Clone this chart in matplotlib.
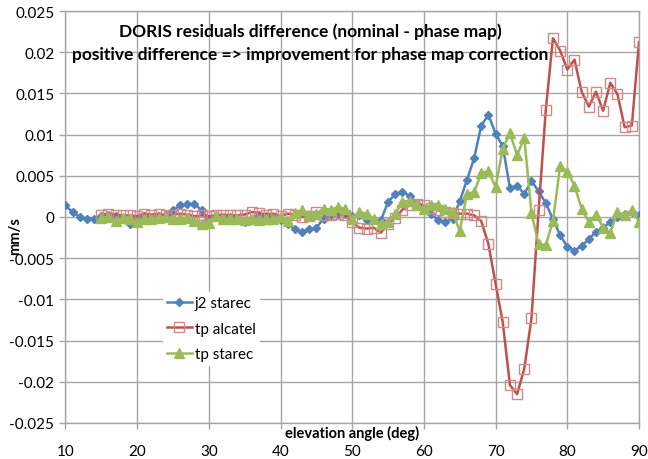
import matplotlib
matplotlib.use("Agg")
import matplotlib.pyplot as plt
import numpy as np

# elevation angles (deg)
elev_j2 = list(range(10, 91))
elev_tp = list(range(15, 91))

j2_starec = [
    0.0014, 0.0006, 0.0000, -0.0002, -0.0002,                      # 10-14
    0.0001, 0.0002, 0.0001, -0.0003, -0.0008,                      # 15-19
    -0.0003, 0.0001, -0.0001, 0.0001, 0.0003,                      # 20-24
    0.0008, 0.0014, 0.0016, 0.0016, 0.0008,                        # 25-29
    -0.0002, 0.0000, -0.0001, 0.0000, -0.0004,                     # 30-34
    -0.0006, -0.0002, 0.0002, 0.0001, -0.0001,                     # 35-39
    -0.0004, -0.0008, -0.0015, -0.0018, -0.0015,                   # 40-44
    -0.0013, -0.0002, 0.0002, 0.0004, 0.0004,                      # 45-49
    0.0001, 0.0002, -0.0004, -0.0004, -0.0004,                     # 50-54
    0.0018, 0.0028, 0.0030, 0.0026, 0.0016,                        # 55-59
    0.0008, 0.0004, -0.0004, -0.0006, -0.0002,                     # 60-64
    0.0019, 0.0045, 0.0071, 0.0111, 0.0124,                        # 65-69
    0.0101, 0.0086, 0.0035, 0.0038, 0.0028,                        # 70-74
    0.0044, 0.0031, 0.0017, -0.0003, -0.0022,                      # 75-79
    -0.0036, -0.0041, -0.0035, -0.0027, -0.0018,                   # 80-84
    -0.0013, -0.0006, 0.0000, 0.0004, 0.0006,                      # 85-89
    0.0002,                                                        # 90
]

tp_alcatel = [
    0.0003, 0.0004, 0.0003, 0.0002, 0.0002,                        # 15-19
    0.0001, 0.0004, 0.0003, 0.0004, 0.0002,                        # 20-24
    0.0003, 0.0004, 0.0003, 0.0001, 0.0002,                        # 25-29
    0.0001, 0.0002, 0.0003, 0.0002, 0.0002,                        # 30-34
    0.0003, 0.0006, 0.0005, 0.0003, 0.0004,                        # 35-39
    0.0001, 0.0004, 0.0003, 0.0000, 0.0001,                        # 40-44
    0.0006, 0.0003, 0.0002, 0.0004, 0.0003,                        # 45-49
    -0.0006, -0.0013, -0.0014, -0.0013, -0.0019,                   # 50-54
    -0.0008, -0.0001, 0.0009, 0.0014, 0.0016,                      # 55-59
    0.0014, 0.0011, 0.0008, 0.0006, 0.0005,                        # 60-64
    0.0004, 0.0004, 0.0002, -0.0005, -0.0033,                      # 65-69
    -0.0081, -0.0128, -0.0204, -0.0215, -0.0184,                   # 70-74
    -0.0123, 0.0008, 0.0130, 0.0217, 0.0202,                       # 75-79
    0.0179, 0.0191, 0.0152, 0.0134, 0.0152,                        # 80-84
    0.0129, 0.0163, 0.0149, 0.0109, 0.0111,                        # 85-89
    0.0212,                                                        # 90
]

tp_starec = [
    -0.0001, 0.0000, -0.0005, -0.0001, -0.0003,                    # 15-19
    -0.0006, -0.0002, -0.0002, -0.0001, 0.0000,                    # 20-24
    -0.0003, -0.0002, -0.0001, -0.0005, -0.0008,                   # 25-29
    -0.0007, 0.0001, -0.0003, -0.0002, -0.0003,                    # 30-34
    -0.0004, -0.0003, -0.0004, -0.0002, -0.0003,                   # 35-39
    0.0000, -0.0005, 0.0005, 0.0008, 0.0003,                       # 40-44
    0.0004, 0.0010, 0.0009, 0.0012, 0.0010,                        # 45-49
    -0.0002, 0.0006, 0.0004, -0.0002, -0.0009,                     # 50-54
    -0.0006, 0.0004, 0.0018, 0.0020, 0.0014,                       # 55-59
    0.0010, 0.0014, 0.0014, 0.0010, 0.0006,                        # 60-64
    -0.0017, 0.0028, 0.0030, 0.0053, 0.0056,                       # 65-69
    0.0036, 0.0083, 0.0102, 0.0075, 0.0096,                        # 70-74
    0.0005, -0.0033, -0.0034, -0.0005, 0.0062,                     # 75-79
    0.0055, 0.0038, 0.0010, -0.0006, 0.0003,                       # 80-84
    -0.0013, -0.0019, 0.0006, 0.0002, 0.0008,                      # 85-89
    -0.0006,                                                       # 90
]

x_ticks = [10, 20, 30, 40, 50, 60, 70, 80, 90]
y_ticks = [0.025, 0.02, 0.015, 0.01, 0.005, 0, -0.005, -0.01, -0.015, -0.02, -0.025]
y_tick_labels = ["0.025", "0.02", "0.015", "0.01", "0.005", "0",
                 "-0.005", "-0.01", "-0.015", "-0.02", "-0.025"]

plt.rcParams['font.family'] = ['Lato', 'DejaVu Sans']

fig = plt.figure(figsize=(6.48, 4.60), dpi=100)
ax = fig.add_axes([65.4 / 648, 1 - 424 / 460, (639 - 65.4) / 648, (424 - 12) / 460])

blue = '#4F81BD'
red = '#C0504D'
green = '#9BBB59'

ax.plot(elev_j2, j2_starec, color=blue, lw=1.8, marker='D', ms=4.5,
        mfc=blue, mec=blue, label='j2 starec', zorder=3)
ax.plot(elev_tp, tp_alcatel, color=red, lw=1.8, marker='s', ms=7,
        mfc='none', mec='#D08A88', mew=1.0, label='tp alcatel', zorder=4)
ax.plot(elev_tp, tp_starec, color=green, lw=1.8, marker='^', ms=6.5,
        mfc=green, mec=green, label='tp starec', zorder=5)

ax.set_xlim(10, 90)
ax.set_ylim(-0.025, 0.025)
ax.set_xticks(x_ticks)
ax.set_xticklabels([str(t) for t in x_ticks], fontsize=11)
ax.set_yticks(y_ticks)
ax.set_yticklabels(y_tick_labels, fontsize=11)
ax.grid(True, color='#A6A6A6', lw=1.0, zorder=0)
ax.set_axisbelow(True)
for s in ax.spines.values():
    s.set_color('#A6A6A6')
    s.set_linewidth(1.0)
ax.tick_params(axis='both', color='#A6A6A6', length=4, width=1.0)
ax.tick_params(axis='x', pad=11)
ax.tick_params(axis='y', pad=4)

ax.text(0.5, -0.004, 'elevation angle (deg)', transform=ax.transAxes,
        ha='center', va='top', fontsize=10.5, fontweight='bold')
fig.text(15 / 648, 1 - 236 / 460, 'mm/s', rotation=90, ha='center', va='center',
         fontsize=10.5, fontweight='bold')

fig.text(310 / 648, 1 - 32 / 460, 'DORIS residuals difference (nominal - phase map)',
         fontsize=12.5, fontweight='bold', ha='center', va='center')
fig.text(310 / 648, 1 - 55 / 460, 'positive difference => improvement for phase map correction',
         fontsize=12.5, fontweight='bold', ha='center', va='center')

leg = ax.legend(loc='upper left', bbox_to_anchor=(155 / 648, 1 - 285 / 460),
                bbox_transform=fig.transFigure, frameon=True,
                fontsize=11, handlelength=1.6, handletextpad=0.2, labelspacing=0.75,
                borderpad=0.3)
leg.get_frame().set_edgecolor('none')
leg.get_frame().set_facecolor('white')
leg.get_frame().set_alpha(1.0)
leg.set_zorder(10)

fig.savefig('out.png', dpi=100)
